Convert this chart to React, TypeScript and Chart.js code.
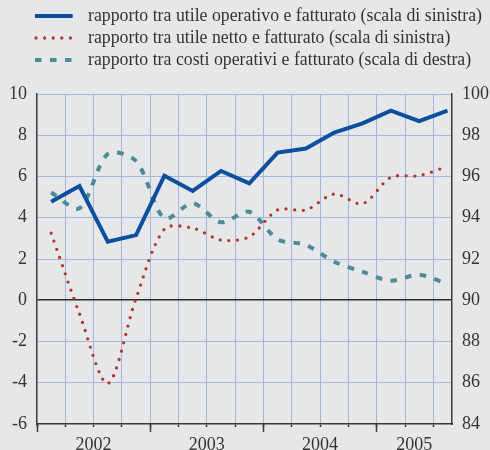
import React, { useEffect, useRef } from 'react';
import { Chart, registerables } from 'chart.js';

Chart.register(...registerables);

// ---- data ----
const quarters = [
  'I 2002', 'II 2002', 'III 2002', 'IV 2002',
  'I 2003', 'II 2003', 'III 2003', 'IV 2003',
  'I 2004', 'II 2004', 'III 2004', 'IV 2004',
  'I 2005', 'II 2005', 'III 2005',
];
const years = ['2002', '2003', '2004', '2005'];
const quartersPerYear = 4;

// rapporto tra utile operativo e fatturato (scala di sinistra)
const utileOperativo = [4.78, 5.54, 2.84, 3.16, 6.04, 5.3, 6.27, 5.67, 7.16, 7.36, 8.13, 8.58, 9.19, 8.69, 9.19];
// rapporto tra utile netto e fatturato (scala di sinistra)
const utileNetto = [3.25, -0.65, -4.04, 0.1, 3.45, 3.5, 2.92, 3.08, 4.38, 4.38, 5.15, 4.68, 5.96, 6.04, 6.49];
// rapporto tra costi operativi e fatturato (scala di destra)
const costiOperativi = [95.23, 94.46, 97.09, 96.75, 93.97, 94.7, 93.78, 94.29, 92.95, 92.68, 91.87, 91.38, 90.95, 91.24, 90.79];

const legendLabels = [
  'rapporto tra utile operativo e fatturato (scala di sinistra)',
  'rapporto tra utile netto e fatturato (scala di sinistra)',
  'rapporto tra costi operativi e fatturato (scala di destra)',
];

const leftMin = -6;
const leftMax = 10;
const rightMin = 84;
const rightMax = 100;
const tickStep = 2;
const xMax = 14.66; // axis extent in quarters

// ---- styles ----
const BG = '#E6E7E9';
const GRID = '#A7B4DE';
const AXIS = '#3A3A3A';
const TEXT = '#333333';
const BLUE = '#0B4F9E';
const RED = '#B3382C';
const TEAL = '#4C8C96';
const FONT = '"Liberation Serif", "Times New Roman", serif';

const yearStarts = years.map((_, i) => i * quartersPerYear);
const yearCenters = years.map((_, i) => (i * quartersPerYear + Math.min((i + 1) * quartersPerYear, xMax)) / 2);

const legendPlugin = {
  id: 'customLegend',
  afterDraw(chart: any) {
    const ctx = chart.ctx as CanvasRenderingContext2D;
    chart.data.datasets.forEach((ds: any, i: number) => {
      const y = 16 + i * 22;
      ctx.save();
      ctx.strokeStyle = ds.borderColor;
      ctx.lineWidth = ds.borderWidth;
      ctx.lineCap = ds.borderCapStyle || 'butt';
      ctx.setLineDash(ds.borderDash || []);
      ctx.beginPath();
      ctx.moveTo(i === 1 ? 36 : 35, y);
      ctx.lineTo(i === 1 ? 71 : 72.7, y);
      ctx.stroke();
      ctx.setLineDash([]);
      ctx.fillStyle = TEXT;
      ctx.font = '17.8px ' + FONT;
      ctx.textBaseline = 'middle';
      ctx.textAlign = 'left';
      ctx.fillText(ds.label, 88, y);
      ctx.restore();
    });
  },
};

export default function App() {
  const ref = useRef<HTMLCanvasElement | null>(null);

  useEffect(() => {
    if (!ref.current) return;
    const toPts = (arr: number[]) => arr.map((v, i) => ({ x: i + 0.5, y: v }));
    const chart = new Chart(ref.current, {
      type: 'line',
      data: {
        datasets: [
          {
            label: legendLabels[0],
            data: toPts(utileOperativo),
            xAxisID: 'x',
            yAxisID: 'y',
            borderColor: BLUE,
            borderWidth: 4,
            pointRadius: 0,
            tension: 0,
            fill: false,
          },
          {
            label: legendLabels[1],
            data: toPts(utileNetto),
            xAxisID: 'x',
            yAxisID: 'y',
            borderColor: RED,
            borderWidth: 3.3,
            borderDash: [0, 8.6],
            borderCapStyle: 'round',
            pointRadius: 0,
            tension: 0.3,
            fill: false,
          },
          {
            label: legendLabels[2],
            data: toPts(costiOperativi),
            xAxisID: 'x',
            yAxisID: 'y2',
            borderColor: TEAL,
            borderWidth: 4,
            borderDash: [6.5, 8.5],
            borderCapStyle: 'butt',
            pointRadius: 0,
            tension: 0.3,
            fill: false,
          },
        ] as any,
      },
      options: {
        animation: false,
        responsive: false,
        events: [],
        layout: { padding: { top: 94, left: 0, right: 0, bottom: 0 } },
        plugins: { legend: { display: false }, tooltip: { enabled: false } },
        font: { family: FONT, size: 18 } as any,
        scales: {
          x: {
            type: 'linear',
            position: 'bottom',
            weight: 0,
            min: 0,
            max: xMax,
            afterBuildTicks: (s: any) => {
              s.ticks = quarters.map((_, i) => ({ value: i }));
            },
            ticks: { display: false },
            grid: {
              color: (c: any) => (c.tick && c.tick.value === 0 ? 'rgba(0,0,0,0)' : GRID),
              lineWidth: 1,
              drawTicks: true,
              tickLength: 3,
              tickColor: AXIS,
              tickWidth: 1.5,
            },
            border: { display: true, color: AXIS, width: 1.5 },
            afterFit: (s: any) => {
              s.height = 0;
            },
          },
          xYear: {
            type: 'linear',
            position: 'bottom',
            weight: 1,
            min: 0,
            max: xMax,
            afterBuildTicks: (s: any) => {
              s.ticks = [...yearStarts, ...yearCenters]
                .sort((a, b) => a - b)
                .map((v) => ({ value: v }));
            },
            ticks: {
              autoSkip: false,
              maxRotation: 0,
              minRotation: 0,
              padding: 2,
              color: TEXT,
              font: { family: FONT, size: 18 },
              callback: (value: any) => {
                const idx = yearCenters.findIndex((c) => Math.abs(c - Number(value)) < 1e-6);
                return idx >= 0 ? years[idx] : '';
              },
            },
            grid: {
              drawOnChartArea: false,
              drawTicks: true,
              tickLength: 8,
              tickWidth: 1.5,
              tickColor: (c: any) =>
                c.tick && yearStarts.includes(c.tick.value) ? AXIS : 'rgba(0,0,0,0)',
            },
            border: { display: false },
            afterFit: (s: any) => {
              s.height = 26;
            },
          },
          y: {
            type: 'linear',
            position: 'left',
            min: leftMin,
            max: leftMax,
            ticks: {
              stepSize: tickStep,
              padding: 10,
              color: TEXT,
              font: { family: FONT, size: 18 },
            },
            grid: {
              drawTicks: false,
              color: (c: any) => {
                const v = c.tick ? c.tick.value : null;
                if (v === 0) return '#2A2A2A';
                if (v === leftMin) return 'rgba(0,0,0,0)';
                return GRID;
              },
              lineWidth: (c: any) => (c.tick && c.tick.value === 0 ? 1.6 : 1),
            },
            border: { display: true, color: AXIS, width: 1.5 },
            afterFit: (s: any) => {
              s.width = 37;
            },
          },
          y2: {
            type: 'linear',
            position: 'right',
            min: rightMin,
            max: rightMax,
            ticks: {
              stepSize: tickStep,
              padding: 10,
              color: TEXT,
              font: { family: FONT, size: 18 },
            },
            grid: { display: false, drawTicks: false },
            border: { display: true, color: AXIS, width: 1.5 },
            afterFit: (s: any) => {
              s.width = 38;
            },
          },
        },
      } as any,
      plugins: [legendPlugin],
    });
    return () => chart.destroy();
  }, []);

  return (
    <div
      style={{
        position: 'absolute',
        left: 0,
        top: 0,
        width: 490,
        height: 450,
        background: BG,
      }}
    >
      <canvas ref={ref} width={490} height={450} style={{ display: 'block' }} />
    </div>
  );
}
